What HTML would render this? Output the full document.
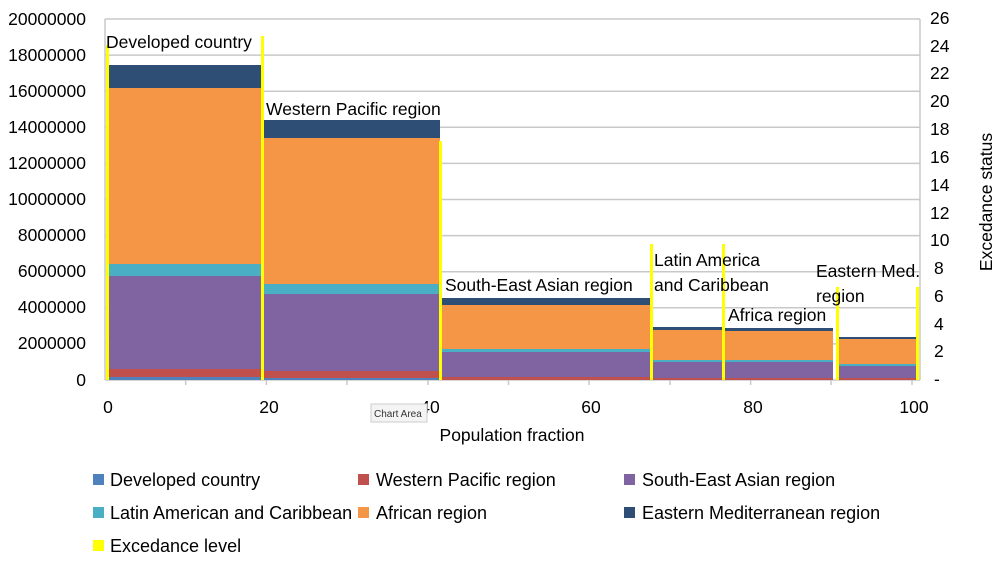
<!DOCTYPE html><html><head><style>body{margin:0;background:#fff;font-family:"Liberation Sans",sans-serif}</style></head><body>
<svg width="999" height="561" xmlns="http://www.w3.org/2000/svg" font-family="Liberation Sans, sans-serif" font-size="16" fill="#000">
<g stroke="#c8c8c8" stroke-width="1.5">
<line x1="105" y1="19" x2="920" y2="19"/><line x1="105" y1="55.1" x2="920" y2="55.1"/><line x1="105" y1="91.2" x2="920" y2="91.2"/><line x1="105" y1="127.3" x2="920" y2="127.3"/><line x1="105" y1="163.4" x2="920" y2="163.4"/><line x1="105" y1="199.5" x2="920" y2="199.5"/><line x1="105" y1="235.6" x2="920" y2="235.6"/><line x1="105" y1="271.7" x2="920" y2="271.7"/><line x1="105" y1="307.8" x2="920" y2="307.8"/><line x1="105" y1="343.9" x2="920" y2="343.9"/>
<line x1="105" y1="380" x2="920" y2="380"/><line x1="105" y1="19" x2="105" y2="380"/><line x1="920" y1="19" x2="920" y2="380"/>
</g>
<g stroke="#c8c8c8" stroke-width="1.5"><line x1="185.7" y1="380" x2="185.7" y2="385"/><line x1="266.4" y1="380" x2="266.4" y2="385"/><line x1="347" y1="380" x2="347" y2="385"/><line x1="428" y1="380" x2="428" y2="385"/><line x1="508.5" y1="380" x2="508.5" y2="385"/><line x1="589" y1="380" x2="589" y2="385"/><line x1="670" y1="380" x2="670" y2="385"/><line x1="750.6" y1="380" x2="750.6" y2="385"/><line x1="831" y1="380" x2="831" y2="385"/><line x1="912" y1="380" x2="912" y2="385"/></g>
<g>
<rect x="108" y="65" width="153" height="315" fill="#2e4e75"/><rect x="108" y="88" width="153" height="292" fill="#f59647"/><rect x="108" y="264" width="153" height="116" fill="#4aaec5"/><rect x="108" y="276" width="153" height="104" fill="#8064a2"/><rect x="108" y="369" width="153" height="11" fill="#c0504d"/><rect x="108" y="377" width="153" height="3" fill="#4f81bd"/>
<rect x="264" y="120" width="176" height="260" fill="#2e4e75"/><rect x="264" y="138" width="176" height="242" fill="#f59647"/><rect x="264" y="284" width="176" height="96" fill="#4aaec5"/><rect x="264" y="294" width="176" height="86" fill="#8064a2"/><rect x="264" y="371" width="176" height="9" fill="#c0504d"/><rect x="264" y="378" width="176" height="2" fill="#4f81bd"/>
<rect x="442" y="298" width="208" height="82" fill="#2e4e75"/><rect x="442" y="305" width="208" height="75" fill="#f59647"/><rect x="442" y="349" width="208" height="31" fill="#4aaec5"/><rect x="442" y="352" width="208" height="28" fill="#8064a2"/><rect x="442" y="377" width="208" height="3" fill="#c0504d"/>
<rect x="652" y="327" width="70" height="53" fill="#2e4e75"/><rect x="652" y="330" width="70" height="50" fill="#f59647"/><rect x="652" y="360" width="70" height="20" fill="#4aaec5"/><rect x="652" y="362" width="70" height="18" fill="#8064a2"/><rect x="652" y="378" width="70" height="2" fill="#c0504d"/>
<rect x="725" y="328" width="108" height="52" fill="#2e4e75"/><rect x="725" y="331" width="108" height="49" fill="#f59647"/><rect x="725" y="360" width="108" height="20" fill="#4aaec5"/><rect x="725" y="362" width="108" height="18" fill="#8064a2"/><rect x="725" y="378" width="108" height="2" fill="#c0504d"/>
<rect x="838" y="337" width="78" height="43" fill="#2e4e75"/><rect x="838" y="339" width="78" height="41" fill="#f59647"/><rect x="838" y="364" width="78" height="16" fill="#4aaec5"/><rect x="838" y="366" width="78" height="14" fill="#8064a2"/><rect x="838" y="378" width="78" height="2" fill="#c0504d"/>
</g>
<g fill="#ffff00">
<rect x="106" y="45" width="3" height="335"/><rect x="261" y="36" width="3" height="344"/><rect x="439" y="141" width="3" height="239"/><rect x="650" y="244" width="3" height="136"/><rect x="722" y="244" width="3" height="136"/><rect x="836" y="287" width="3" height="93"/><rect x="916" y="287" width="3" height="93"/>
</g>
<g font-size="17.5">
<text x="106" y="48">Developed country</text><text x="266" y="115">Western Pacific region</text><text x="445" y="291">South-East Asian region</text>
<text x="654" y="266">Latin America</text><text x="654" y="291">and Caribbean</text><text x="728" y="321">Africa region</text>
<text x="816" y="277">Eastern Med.</text><text x="816" y="302">region</text>
</g>
<g text-anchor="end" font-size="17.5">
<text x="86" y="25">20000000</text><text x="86" y="61">18000000</text><text x="86" y="97">16000000</text><text x="86" y="133">14000000</text><text x="86" y="169">12000000</text><text x="86" y="205">10000000</text><text x="86" y="241">8000000</text><text x="86" y="277">6000000</text><text x="86" y="313">4000000</text><text x="86" y="349">2000000</text><text x="86" y="386">0</text>
</g>
<g font-size="17.5">
<text x="930" y="24">26</text><text x="930" y="52">24</text><text x="930" y="79">22</text><text x="930" y="107">20</text><text x="930" y="135">18</text><text x="930" y="163">16</text><text x="930" y="191">14</text><text x="930" y="219">12</text><text x="930" y="246">10</text><text x="934" y="274">8</text><text x="934" y="302">6</text><text x="934" y="330">4</text><text x="934" y="357">2</text><text x="934" y="385">-</text>
</g>
<g text-anchor="middle" font-size="17.5">
<text x="108" y="413">0</text><text x="269" y="413">20</text><text x="430" y="413">40</text><text x="591" y="413">60</text><text x="753" y="413">80</text><text x="914" y="413">100</text>
<text x="512" y="441">Population fraction</text>
</g>
<text transform="translate(992,202) rotate(-90)" text-anchor="middle" font-size="17.5">Excedance status</text>
<rect x="371" y="404" width="56" height="18" fill="#f4f4f4" stroke="#ccc"/><text x="374" y="417" font-size="10" fill="#333">Chart Area</text>
<g font-size="18">
<rect x="93" y="474" width="11" height="11" fill="#4f81bd"/><text x="110" y="486">Developed country</text>
<rect x="358" y="474" width="11" height="11" fill="#c0504d"/><text x="376" y="486">Western Pacific region</text>
<rect x="624" y="474" width="11" height="11" fill="#8064a2"/><text x="642" y="486">South-East Asian region</text>
<rect x="93" y="507" width="11" height="11" fill="#4aaec5"/><text x="110" y="519">Latin American and Caribbean</text>
<rect x="358" y="507" width="11" height="11" fill="#f59647"/><text x="376" y="519">African region</text>
<rect x="624" y="507" width="11" height="11" fill="#2e4e75"/><text x="642" y="519">Eastern Mediterranean region</text>
<rect x="93" y="540" width="11" height="11" fill="#ffff00"/><text x="110" y="552">Excedance level</text>
</g>
</svg></body></html>
